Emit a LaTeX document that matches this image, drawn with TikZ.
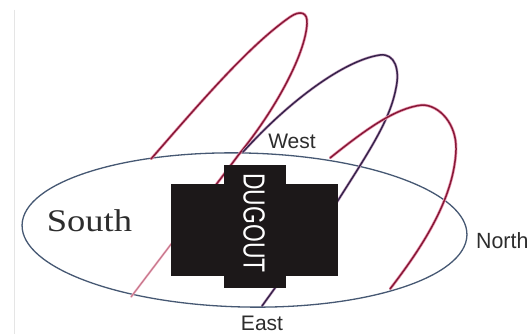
\documentclass[tikz,border=0pt]{standalone}
\usepackage{graphicx}
\usepackage{fontspec}
\setmainfont{Liberation Serif}
\setsansfont{Liberation Sans}
\definecolor{redline}{RGB}{135,25,55}
\definecolor{redhalo}{RGB}{238,160,185}
\definecolor{redlight}{RGB}{200,120,140}
\definecolor{darkline}{RGB}{55,35,75}
\definecolor{darkhalo}{RGB}{205,170,200}
\definecolor{ellcol}{RGB}{70,88,115}
\definecolor{dugcol}{RGB}{28,24,25}
\definecolor{labcol}{RGB}{45,45,45}
\begin{document}
\begin{tikzpicture}[x=1pt,y=-1pt,
  loopred/.style={draw=redline, line width=1.5pt, line cap=round, line join=round,
    preaction={draw=redhalo, line width=2.9pt}},
  loopfaint/.style={draw=redlight, line width=1.2pt, line cap=round,
    preaction={draw=redhalo!60, line width=2.2pt}},
  loopdark/.style={draw=darkline, line width=1.5pt, line cap=round, line join=round,
    preaction={draw=darkhalo, line width=2.7pt}},
  fieldline/.style={draw=ellcol, line width=1.3pt},
  dugbox/.style={fill=dugcol},
  sidelabel/.style={font=\sffamily\fontsize{21}{21}\selectfont, text=labcol, inner sep=0pt}
]
\useasboundingbox (0,0) rectangle (529,334);
\fill[white] (0,0) rectangle (529,334);
\draw[gray!20, line width=0.6pt] (14,10) -- (14,334);

% field ellipse
\draw[fieldline, rotate around={-1.3:(244.5,230)}] (244.5,230) ellipse [x radius=222.5, y radius=77];

% loop 1 (red, tallest)
\draw[loopred] (151,159) .. controls (205,97) and (250,45) .. (290,17)
  .. controls (300,10) and (308,12) .. (307,24)
  .. controls (305,55) and (275,110) .. (240,153) -- (200,206);
\draw[loopfaint] (200,206) -- (131,297);

% loop 2 (dark)
\draw[loopdark] (243,152) .. controls (290,100) and (345,60) .. (380,55)
  .. controls (395,53) and (400,70) .. (396,88)
  .. controls (390,120) and (370,150) .. (337,202) -- (262,306);

% loop 3 (red)
\draw[loopred] (330,158) .. controls (365,130) and (395,108) .. (422,105)
  .. controls (440,105) and (457,125) .. (456,150)
  .. controls (454,200) and (420,250) .. (390,289);

% dugout
\fill[dugbox] (171,183.5) rectangle (337.5,276);
\fill[dugbox] (224,164.5) rectangle (285.5,288);
\node[inner sep=0pt, text=white, rotate=-90, font=\sffamily\fontsize{30.5}{30.5}\selectfont] (dugout) at (254,223) {\scalebox{0.75}[1]{DUGOUT}};

% labels
\node[sidelabel] (west) at (292,141) {West};
\node[sidelabel] (east) at (262,323) {East};
\node[sidelabel, anchor=west, font=\sffamily\fontsize{22}{22}\selectfont] (north) at (476,241) {\scalebox{0.97}[1]{North}};
\node[inner sep=0pt, text=labcol, font=\rmfamily\fontsize{31.5}{31.5}\selectfont] (south) at (89.5,221) {\scalebox{1.16}[1]{South}};
\end{tikzpicture}
\end{document}
